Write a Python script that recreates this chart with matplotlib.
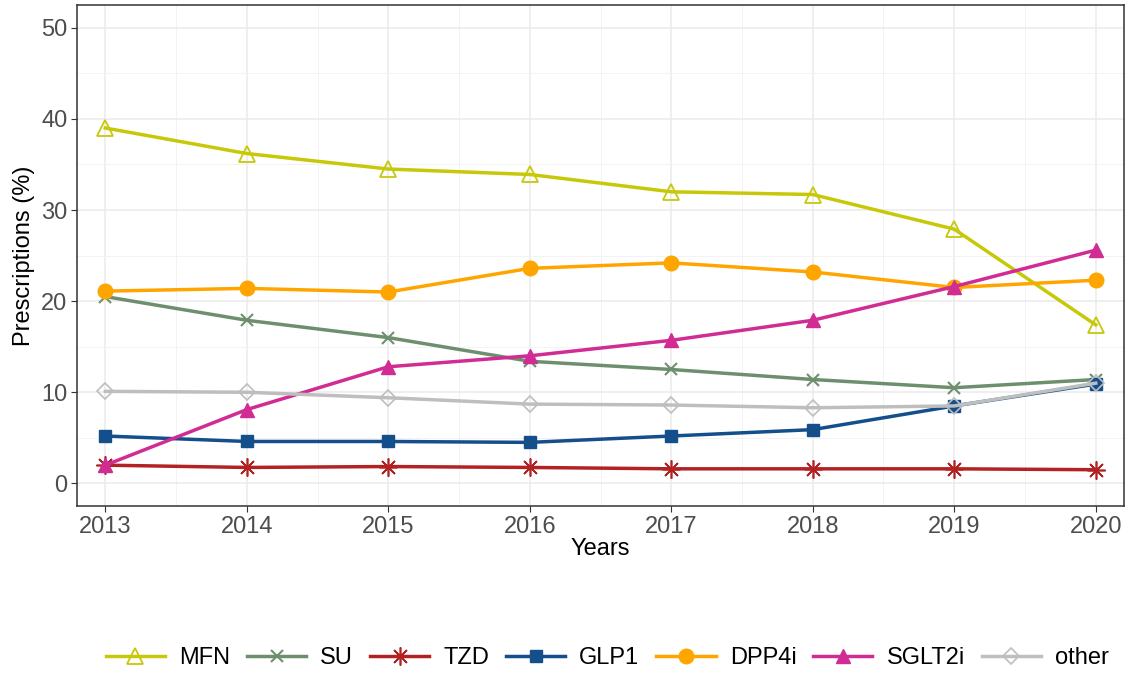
import numpy as np
import matplotlib.pyplot as plt
from matplotlib.ticker import MultipleLocator

plt.rcParams['font.family'] = ['Liberation Sans', 'DejaVu Sans']

years = [2013, 2014, 2015, 2016, 2017, 2018, 2019, 2020]
mfn = [39.0, 36.2, 34.5, 33.9, 32.0, 31.7, 27.9, 17.4]
su = [20.5, 17.9, 16.0, 13.4, 12.5, 11.4, 10.5, 11.4]
tzd = [2.0, 1.75, 1.85, 1.75, 1.6, 1.6, 1.6, 1.5]
glp1 = [5.2, 4.6, 4.6, 4.5, 5.2, 5.9, 8.5, 10.9]
dpp4i = [21.1, 21.4, 21.0, 23.6, 24.2, 23.2, 21.5, 22.3]
sglt2i = [2.0, 8.1, 12.8, 14.0, 15.7, 17.9, 21.6, 25.6]
other = [10.1, 10.0, 9.4, 8.7, 8.6, 8.3, 8.5, 11.0]

fig = plt.figure(figsize=(11.29, 6.74), dpi=100)
ax = fig.add_axes([0.0682, 0.249, 0.9274, 0.7436])

series = [
    ('MFN', mfn, '#C8C80A', dict(marker='^', mfc='none', ms=11, mew=1.3)),
    ('SU', su, '#6E8F6E', dict(marker='x', ms=9, mew=1.5)),
    ('TZD', tzd, '#B22222', dict(marker=(8, 2, 0), ms=13, mew=1.2)),
    ('GLP1', glp1, '#144F8C', dict(marker='s', ms=8.5)),
    ('DPP4i', dpp4i, '#FFA500', dict(marker='o', ms=10.5)),
    ('SGLT2i', sglt2i, '#D02C94', dict(marker='^', ms=10.5)),
    ('other', other, '#BEBEBE', dict(marker='D', mfc='none', ms=8, mew=1.2)),
]
for name, vals, col, mk in series:
    ax.plot(years, vals, color=col, lw=2.5, label=name, **mk)

ax.set_xlim(2012.8, 2020.2)
ax.set_ylim(-2.5, 52.5)
ax.set_xticks(years)
ax.yaxis.set_major_locator(MultipleLocator(10))
ax.yaxis.set_minor_locator(MultipleLocator(5))
ax.xaxis.set_minor_locator(MultipleLocator(0.5))
ax.grid(which='major', color='#EBEBEB', lw=1.1)
ax.grid(which='minor', color='#F3F3F3', lw=0.7)
ax.set_axisbelow(True)
ax.tick_params(which='minor', length=0)
ax.tick_params(which='major', length=4, color='#333333', labelsize=17, labelcolor='#4D4D4D', pad=3)
for s in ax.spines.values():
    s.set_color('#333333')
    s.set_linewidth(1.1)

ax.set_xlabel('Years', fontsize=17, labelpad=0)
ax.set_ylabel('Prescriptions (%)', fontsize=17, labelpad=4)

fig.legend(loc='center', bbox_to_anchor=(0.538, 0.023), ncol=7, frameon=False,
           fontsize=17, handlelength=2.5, columnspacing=0.72, handletextpad=0.6,
           borderaxespad=0, borderpad=0)

fig.savefig('out.png', dpi=100)
